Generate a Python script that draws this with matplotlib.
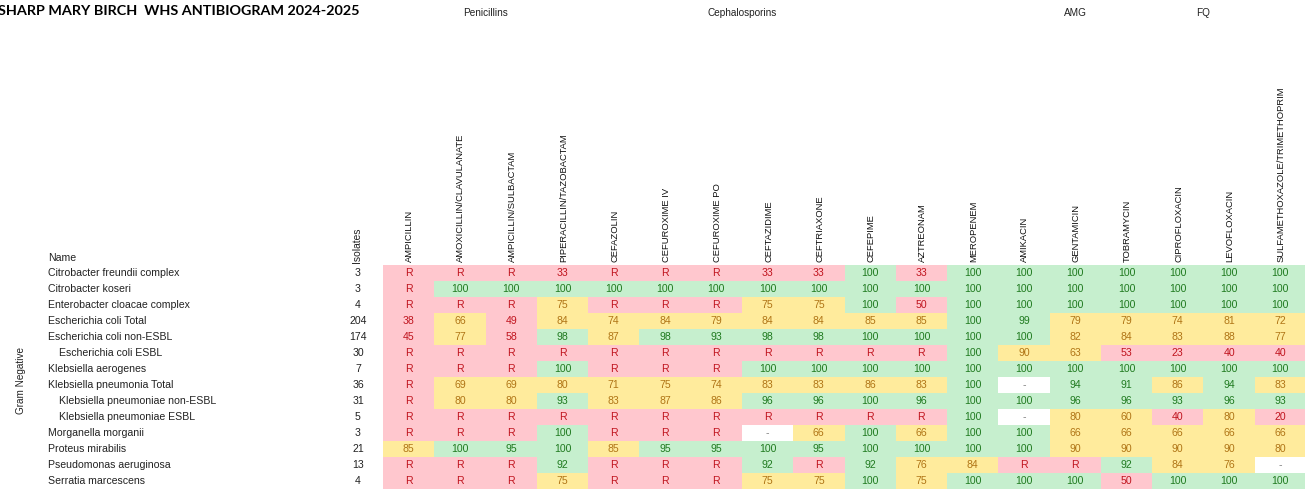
import matplotlib
matplotlib.use("Agg")
import matplotlib.pyplot as plt
import numpy as np
from matplotlib.colors import ListedColormap

W, H = 1305, 493

title = "SHARP MARY BIRCH  WHS ANTIBIOGRAM 2024-2025"

antibiotics = ["AMPICILLIN", "AMOXICILLIN/CLAVULANATE", "AMPICILLIN/SULBACTAM",
               "PIPERACILLIN/TAZOBACTAM", "CEFAZOLIN", "CEFUROXIME IV", "CEFUROXIME PO",
               "CEFTAZIDIME", "CEFTRIAXONE", "CEFEPIME", "AZTREONAM", "MEROPENEM",
               "AMIKACIN", "GENTAMICIN", "TOBRAMYCIN", "CIPROFLOXACIN", "LEVOFLOXACIN",
               "SULFAMETHOXAZOLE/TRIMETHOPRIM"]

groups = ["Penicillins", "Cephalosporins", "AMG", "FQ"]
group_first = [0, 4, 12, 15]
group_last = [3, 9, 14, 16]

organisms = ["Citrobacter freundii complex", "Citrobacter koseri", "Enterobacter cloacae complex",
             "Escherichia coli Total", "Escherichia coli non-ESBL", "Escherichia coli ESBL",
             "Klebsiella aerogenes", "Klebsiella pneumonia Total", "Klebsiella pneumoniae non-ESBL",
             "Klebsiella pneumoniae ESBL", "Morganella morganii", "Proteus mirabilis",
             "Pseudomonas aeruginosa", "Serratia marcescens"]
indented = [False, False, False, False, False, True, False, False, True, True, False, False, False, False]
isolates = [3, 3, 4, 204, 174, 30, 7, 36, 31, 5, 3, 21, 13, 4]

susceptibility = [
    ["R", "R", "R", "33", "R", "R", "R", "33", "33", "100", "33", "100", "100", "100", "100", "100", "100", "100"],
    ["R", "100", "100", "100", "100", "100", "100", "100", "100", "100", "100", "100", "100", "100", "100", "100", "100", "100"],
    ["R", "R", "R", "75", "R", "R", "R", "75", "75", "100", "50", "100", "100", "100", "100", "100", "100", "100"],
    ["38", "66", "49", "84", "74", "84", "79", "84", "84", "85", "85", "100", "99", "79", "79", "74", "81", "72"],
    ["45", "77", "58", "98", "87", "98", "93", "98", "98", "100", "100", "100", "100", "82", "84", "83", "88", "77"],
    ["R", "R", "R", "R", "R", "R", "R", "R", "R", "R", "R", "100", "90", "63", "53", "23", "40", "40"],
    ["R", "R", "R", "100", "R", "R", "R", "100", "100", "100", "100", "100", "100", "100", "100", "100", "100", "100"],
    ["R", "69", "69", "80", "71", "75", "74", "83", "83", "86", "83", "100", "-", "94", "91", "86", "94", "83"],
    ["R", "80", "80", "93", "83", "87", "86", "96", "96", "100", "96", "100", "100", "96", "96", "93", "96", "93"],
    ["R", "R", "R", "R", "R", "R", "R", "R", "R", "R", "R", "100", "-", "80", "60", "40", "80", "20"],
    ["R", "R", "R", "100", "R", "R", "R", "-", "66", "100", "66", "100", "100", "66", "66", "66", "66", "66"],
    ["85", "100", "95", "100", "85", "95", "95", "100", "95", "100", "100", "100", "100", "90", "90", "90", "90", "80"],
    ["R", "R", "R", "92", "R", "R", "R", "92", "R", "92", "76", "84", "R", "R", "92", "84", "76", "-"],
    ["R", "R", "R", "75", "R", "R", "R", "75", "75", "100", "75", "100", "100", "100", "50", "100", "100", "100"],
]

# category: 0 none, 1 red, 2 yellow, 3 green
fills = ["#FFFFFF", "#FFC7CE", "#FFEB9C", "#C6EFCE"]
text_cols = ["#7F7F7F", "#C0141E", "#B07516", "#1F7A1F"]


def category(v):
    if v == "-":
        return 0
    if v == "R":
        return 1
    n = float(v)
    if n < 60:
        return 1
    if n <= 90:
        return 2
    return 3


cats = np.array([[category(v) for v in row] for row in susceptibility])

plt.rcParams['font.family'] = ['Liberation Sans', 'DejaVu Sans']

fig = plt.figure(figsize=(W / 100, H / 100), dpi=100)
ax = fig.add_axes([383 / W, (H - 489) / H, 923 / W, 224 / H])
nr, nc = cats.shape
ax.pcolormesh(np.arange(nc + 1), np.arange(nr + 1), cats,
              cmap=ListedColormap(fills), vmin=-0.5, vmax=3.5)
ax.set_xlim(0, nc)
ax.set_ylim(nr, 0)
ax.axis("off")

for i in range(nr):
    for j in range(nc):
        v = susceptibility[i][j]
        ax.text(j + 0.5, i + 0.5, v, ha="center", va="center", fontsize=7.6,
                color=text_cols[cats[i, j]])
    ax.annotate(organisms[i], xy=(59 if indented[i] else 48, i + 0.5),
                xycoords=("figure pixels", "data"), ha="left", va="center",
                fontsize=7.6, color="#222222")
    ax.annotate(str(isolates[i]), xy=(358, i + 0.5),
                xycoords=("figure pixels", "data"), ha="center", va="center",
                fontsize=7.6, color="#222222")

for j, name in enumerate(antibiotics):
    ax.annotate(name, xy=(j + 0.5, 0), xycoords="data", xytext=(1, 3),
                textcoords="offset pixels", rotation=90, ha="center", va="bottom",
                fontsize=6.75, color="#111111")

for g, s, e in zip(groups, group_first, group_last):
    ax.annotate(g, xy=((s + e + 1) / 2, 1 - 13 / H), xycoords=("data", "figure fraction"),
                ha="center", va="center", fontsize=7.2, color="#222222")

fig.text(48 / W, 1 - 258 / H, "Name", ha="left", va="center", fontsize=7.6, color="#222222")
fig.text(357 / W, 1 - 263 / H, "Isolates", ha="center", va="bottom", rotation=90,
         fontsize=7.4, color="#222222")
fig.text(21 / W, 1 - 381 / H, "Gram Negative", ha="center", va="center", rotation=90,
         fontsize=7.2, color="#222222")
fig.text(-2 / W, 1 - 11 / H, title, ha="left", va="center", fontsize=10.4,
         fontweight="bold", family=["Lato", "DejaVu Sans"], color="#000000")

fig.savefig("out.png", dpi=100)
